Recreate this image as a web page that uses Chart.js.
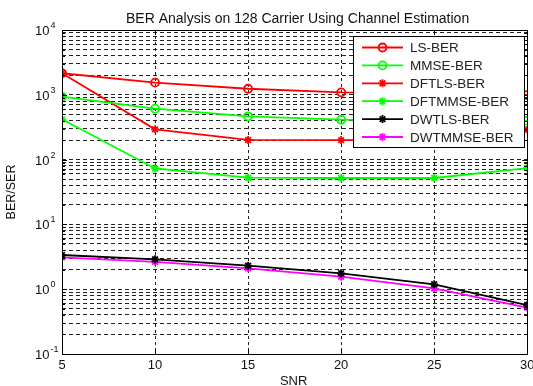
<!DOCTYPE html>
<html>
<head>
<meta charset="utf-8">
<script src="https://cdn.jsdelivr.net/npm/chart.js@4/dist/chart.umd.min.js"></script>
<style>
  html, body { margin: 0; padding: 0; background: #fff; }
  #wrap { width: 533px; height: 386px; position: relative; }
</style>
</head>
<body>
<div id="wrap"><canvas id="ber"></canvas></div>
<script>
// values
const snr = [5, 10, 15, 20, 25, 30];
const lsBer = [2150, 1540, 1240, 1090, 1040, 990];
const mmseBer = [935, 611, 466, 413, 405, 398];
const dftlsBer = [2150, 293, 201, 200, 200, 290];
const dftmmseBer = [418, 73, 52.6, 52, 52, 74];
const dwtlsBer = [3.37, 2.89, 2.31, 1.76, 1.19, 0.57];
const dwtmmseBer = [3.1, 2.65, 2.1, 1.56, 1.03, 0.52];

const xTicks = [5, 10, 15, 20, 25, 30];
const yExponents = [-1, 0, 1, 2, 3, 4];
const minorSteps = [2, 3, 4, 5, 6, 7, 8, 9];

const titleText = 'BER Analysis on 128 Carrier Using Channel Estimation';
const xTitle = 'SNR';
const yTitle = 'BER/SER';

const FONT = '"Liberation Sans", Arial, Helvetica, sans-serif';

// all log gridlines: 1..9 x 10^n
const yTicks = [];
yExponents.forEach((e, i) => {
    const base = Math.pow(10, e);
    yTicks.push(base);
    if (i < yExponents.length - 1) {
        minorSteps.forEach(m => yTicks.push(+(m * base).toPrecision(3)));
    }
});

const series = [
    { label: 'LS-BER', data: lsBer, color: '#ff0000', point: 'circle' },
    { label: 'MMSE-BER', data: mmseBer, color: '#00ff00', point: 'circle' },
    { label: 'DFTLS-BER', data: dftlsBer, color: '#ff0000', point: 'star' },
    { label: 'DFTMMSE-BER', data: dftmmseBer, color: '#00ff00', point: 'star' },
    { label: 'DWTLS-BER', data: dwtlsBer, color: '#000000', point: 'star' },
    { label: 'DWTMMSE-BER', data: dwtmmseBer, color: '#ff00ff', point: 'star' }
];

function drawMarker(ctx, style, color, x, y) {
    ctx.save();
    ctx.strokeStyle = color;
    ctx.lineWidth = 1.8;
    ctx.beginPath();
    if (style === 'circle') {
        ctx.arc(x, y, 4, 0, Math.PI * 2);
    } else {
        const r = 4;
        for (let k = 0; k < 4; k++) {
            const a = k * Math.PI / 4;
            ctx.moveTo(x - r * Math.cos(a), y - r * Math.sin(a));
            ctx.lineTo(x + r * Math.cos(a), y + r * Math.sin(a));
        }
    }
    ctx.stroke();
    ctx.restore();
}

function isDecade(v) {
    return Math.abs(Math.log10(v) - Math.round(Math.log10(v))) < 1e-9;
}

const decorations = {
    id: 'decorations',
    afterDraw(chart) {
        const { ctx, chartArea: area, scales: { x, y } } = chart;
        ctx.save();

        // box round the axes
        ctx.strokeStyle = '#000';
        ctx.lineWidth = 1;
        ctx.setLineDash([]);
        ctx.strokeRect(Math.round(area.left) + 0.5, Math.round(area.top) + 0.5,
            Math.round(area.right - area.left), Math.round(area.bottom - area.top));

        // inward tick marks
        ctx.beginPath();
        yTicks.forEach(v => {
            const py = Math.round(y.getPixelForValue(v)) + 0.5;
            const len = isDecade(v) ? 5 : 3;
            ctx.moveTo(area.left, py); ctx.lineTo(area.left + len, py);
            ctx.moveTo(area.right, py); ctx.lineTo(area.right - len, py);
        });
        xTicks.forEach(v => {
            const px = Math.round(x.getPixelForValue(v)) + 0.5;
            ctx.moveTo(px, area.bottom); ctx.lineTo(px, area.bottom - 5);
            ctx.moveTo(px, area.top); ctx.lineTo(px, area.top + 5);
        });
        ctx.stroke();

        // title
        ctx.fillStyle = '#111';
        ctx.font = '14px ' + FONT;
        ctx.textAlign = 'center';
        ctx.textBaseline = 'alphabetic';
        ctx.fillText(titleText, (area.left + area.right) / 2 + 3, 23);

        // x tick labels
        ctx.font = '13px ' + FONT;
        xTicks.forEach(v => {
            ctx.fillText(String(v), x.getPixelForValue(v), 369);
        });
        ctx.fillText(xTitle, (area.left + area.right) / 2 - 1, 385);

        // y tick labels as 10 with a raised exponent
        yExponents.forEach(e => {
            const py = y.getPixelForValue(Math.pow(10, e));
            ctx.textAlign = 'left';
            ctx.font = '13px ' + FONT;
            ctx.fillText('10', 35, py + 5);
            const w = ctx.measureText('10').width;
            ctx.font = '9px ' + FONT;
            ctx.fillText(String(e), 35 + w + 1, py - 2);
        });

        // y title
        ctx.save();
        ctx.translate(15, 192);
        ctx.rotate(-Math.PI / 2);
        ctx.textAlign = 'center';
        ctx.font = '12.5px ' + FONT;
        ctx.fillText(yTitle, 0, 0);
        ctx.restore();

        // legend box inside the axes
        const lx = 353, ly = 36, lw = 171, lh = 111;
        ctx.fillStyle = '#fff';
        ctx.fillRect(lx, ly, lw, lh);
        ctx.strokeStyle = '#000';
        ctx.lineWidth = 1;
        ctx.strokeRect(lx + 0.5, ly + 0.5, lw, lh);
        ctx.font = '13.5px ' + FONT;
        ctx.textAlign = 'left';
        ctx.textBaseline = 'middle';
        series.forEach((s, i) => {
            const ey = 47.5 + i * 17.9;
            ctx.strokeStyle = s.color;
            ctx.lineWidth = 1.8;
            ctx.beginPath();
            ctx.moveTo(362, ey); ctx.lineTo(403, ey);
            ctx.stroke();
            drawMarker(ctx, s.point, s.color, 382.5, ey);
            ctx.fillStyle = '#222';
            ctx.fillText(s.label, 410, ey + 1);
        });

        ctx.restore();
    }
};

const gridStyle = { color: '#222', lineWidth: 1, drawTicks: false };

new Chart(document.getElementById('ber'), {
    type: 'line',
    data: {
        datasets: series.map(s => ({
            label: s.label,
            data: s.data.map((v, i) => ({ x: snr[i], y: v })),
            borderColor: s.color,
            backgroundColor: s.color,
            pointBorderColor: s.color,
            pointBackgroundColor: 'rgba(0,0,0,0)',
            pointStyle: s.point === 'circle' ? 'circle' : 'star',
            pointRadius: 4,
            pointBorderWidth: 1.8,
            borderWidth: 1.8,
            tension: 0,
            fill: false
        }))
    },
    options: {
        responsive: true,
        maintainAspectRatio: false,
        animation: false,
        events: [],
        layout: { padding: { left: 0, top: 30, right: 3, bottom: 0 } },
        scales: {
            x: {
                type: 'linear',
                min: 5,
                max: 30,
                afterBuildTicks: scale => {
                    scale.ticks = xTicks.map(v => ({ value: v }));
                },
                afterFit: scale => { scale.height = 32; },
                ticks: { display: false },
                grid: gridStyle,
                border: { display: false, dash: [3, 3] }
            },
            y: {
                type: 'logarithmic',
                min: 0.1,
                max: 10000,
                afterBuildTicks: scale => {
                    scale.ticks = yTicks.map(v => ({ value: v }));
                },
                afterFit: scale => { scale.width = 62; },
                ticks: { display: false },
                grid: gridStyle,
                border: { display: false, dash: [4, 3] }
            }
        },
        plugins: {
            legend: { display: false },
            title: { display: false },
            tooltip: { enabled: false }
        }
    },
    plugins: [decorations]
});
</script>
</body>
</html>
